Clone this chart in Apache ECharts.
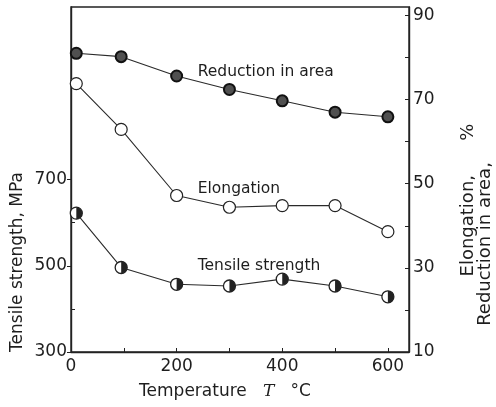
<!DOCTYPE html>
<html>
<head>
<meta charset="utf-8">
<script src="https://cdn.jsdelivr.net/npm/echarts@6/dist/echarts.min.js"></script>
<style>
  html, body { margin: 0; padding: 0; background: #fff; }
  #chart { width: 496px; height: 407px; }
</style>
</head>
<body>
<div id="chart"></div>
<script>
// Test temperatures (°C)
const temperatures = [10, 95, 200, 300, 400, 500, 600];
// Tensile strength (MPa), left axis
const tensileStrength = [622, 496, 457, 453, 469, 453, 428];
// Elongation (%), right axis
const elongation = [73.8, 62.9, 47.2, 44.4, 44.8, 44.8, 38.6];
// Reduction in area (%), right axis
const reductionInArea = [81.0, 80.2, 75.6, 72.4, 69.7, 67.0, 65.9];

// Tick labels
const xTickLabels = [0, 200, 400, 600];
const leftTickLabels = [300, 500, 700];
const rightTickLabels = [10, 30, 50, 70, 90];

const FONT = 'DejaVu Sans';
const INK = '#1e1e1e';

const pairs = (ys) => temperatures.map((t, i) => [t, ys[i]]);

const chart = echarts.init(document.getElementById('chart'), null, { renderer: 'canvas' });

const lineStyle = { color: '#2a2a2a', width: 1.1 };

// in-plot curve caption anchored at a data coordinate
function annotation(text, coord) {
  return {
    symbol: 'circle',
    symbolSize: 1,
    silent: true,
    itemStyle: { color: 'rgba(0,0,0,0)' },
    label: {
      show: true, position: 'right', distance: 0, formatter: text,
      color: INK, fontFamily: FONT, fontSize: 15.5
    },
    data: [{ coord: coord }]
  };
}

chart.setOption({
  animation: false,
  backgroundColor: '#fff',
  grid: {
    left: 71, right: 87, top: 7, bottom: 55,
    show: true, borderColor: '#222', borderWidth: 1.4, backgroundColor: 'transparent'
  },
  xAxis: {
    type: 'value', min: 0, max: 640,
    axisLine: { show: true, lineStyle: { color: '#222', width: 1.4 } },
    axisTick: { show: true, inside: true, length: 4, lineStyle: { color: '#222' },
      customValues: [100, 200, 300, 400, 500, 600] },
    axisLabel: { customValues: xTickLabels, color: INK, fontFamily: FONT, fontSize: 17, margin: 6 },
    splitLine: { show: false },
    name: 'Temperature   {i|T}   °C',
    nameLocation: 'middle',
    nameGap: 31,
    nameTextStyle: {
      color: INK, fontFamily: FONT, fontSize: 17, padding: [0, 30, 0, 0],
      rich: { i: { fontFamily: 'DejaVu Serif', fontStyle: 'italic', fontSize: 17, color: INK } }
    }
  },
  yAxis: [
    {
      type: 'value', position: 'left', min: 300, max: 1100,
      axisLine: { show: true, lineStyle: { color: '#222', width: 1.4 } },
      axisTick: { show: true, inside: false, length: 4, lineStyle: { color: '#222' },
        customValues: leftTickLabels },
      axisLabel: { customValues: leftTickLabels, color: INK, fontFamily: FONT, fontSize: 17, margin: 4 },
      splitLine: { show: false }
    },
    {
      type: 'value', position: 'right', min: 10, max: 92,
      axisLine: { show: true, lineStyle: { color: '#222', width: 1.4 } },
      axisTick: { show: true, inside: true, length: 4, lineStyle: { color: '#222' },
        customValues: [20, 30, 40, 50, 60, 70, 80, 90] },
      axisLabel: { customValues: rightTickLabels, color: INK, fontFamily: FONT, fontSize: 17, margin: 4 },
      splitLine: { show: false }
    },
    {
      // minor ticks on the tensile-strength scale
      type: 'value', position: 'left', min: 300, max: 1100,
      axisLine: { show: false },
      axisTick: { show: true, inside: true, length: 4, lineStyle: { color: '#222' },
        customValues: [400, 600] },
      axisLabel: { show: false },
      splitLine: { show: false }
    }
  ],
  graphic: [
    {
      type: 'text', x: 18, y: 262, rotation: Math.PI / 2,
      style: { text: 'Tensile strength, MPa', fill: INK, font: '17px "DejaVu Sans"',
        align: 'center', verticalAlign: 'middle' }
    },
    {
      type: 'text', x: 468, y: 200, rotation: Math.PI / 2,
      style: { text: 'Elongation,      %', fill: INK, font: '18px "DejaVu Sans"',
        align: 'center', verticalAlign: 'middle' }
    },
    {
      type: 'text', x: 485, y: 244, rotation: Math.PI / 2,
      style: { text: 'Reduction in area,', fill: INK, font: '18px "DejaVu Sans"',
        align: 'center', verticalAlign: 'middle' }
    }
  ],
  series: [
    {
      name: 'Reduction in area',
      type: 'line', yAxisIndex: 1,
      data: pairs(reductionInArea),
      symbol: 'circle', symbolSize: 11,
      itemStyle: { color: '#505050', borderColor: '#111', borderWidth: 2 },
      lineStyle: lineStyle,
      markPoint: annotation('Reduction in area', [239, 76.6]),
      z: 3
    },
    {
      name: 'Elongation',
      type: 'line', yAxisIndex: 1,
      data: pairs(elongation),
      symbol: 'circle', symbolSize: 12,
      itemStyle: { color: '#fff', borderColor: '#222', borderWidth: 1.2 },
      lineStyle: lineStyle,
      markPoint: annotation('Elongation', [239, 48.7]),
      z: 3
    },
    {
      name: 'Tensile strength',
      type: 'line', yAxisIndex: 0,
      data: pairs(tensileStrength),
      symbol: 'circle', symbolSize: 12,
      itemStyle: { color: '#fff', borderColor: '#222', borderWidth: 1.3 },
      lineStyle: lineStyle,
      markPoint: annotation('Tensile strength', [239, 500]),
      z: 3
    },
    {
      // dark half of the tensile-strength markers
      name: 'Tensile strength half',
      type: 'line', yAxisIndex: 0,
      data: pairs(tensileStrength),
      symbol: 'path://M0,-1 A1,1 0 0,1 0,1 Z',
      symbolSize: [6, 12], symbolOffset: [3, 0], symbolKeepAspect: false,
      itemStyle: { color: '#222', borderWidth: 0 },
      lineStyle: { width: 0, opacity: 0 },
      silent: true,
      z: 4
    }
  ]
});
</script>
</body>
</html>
